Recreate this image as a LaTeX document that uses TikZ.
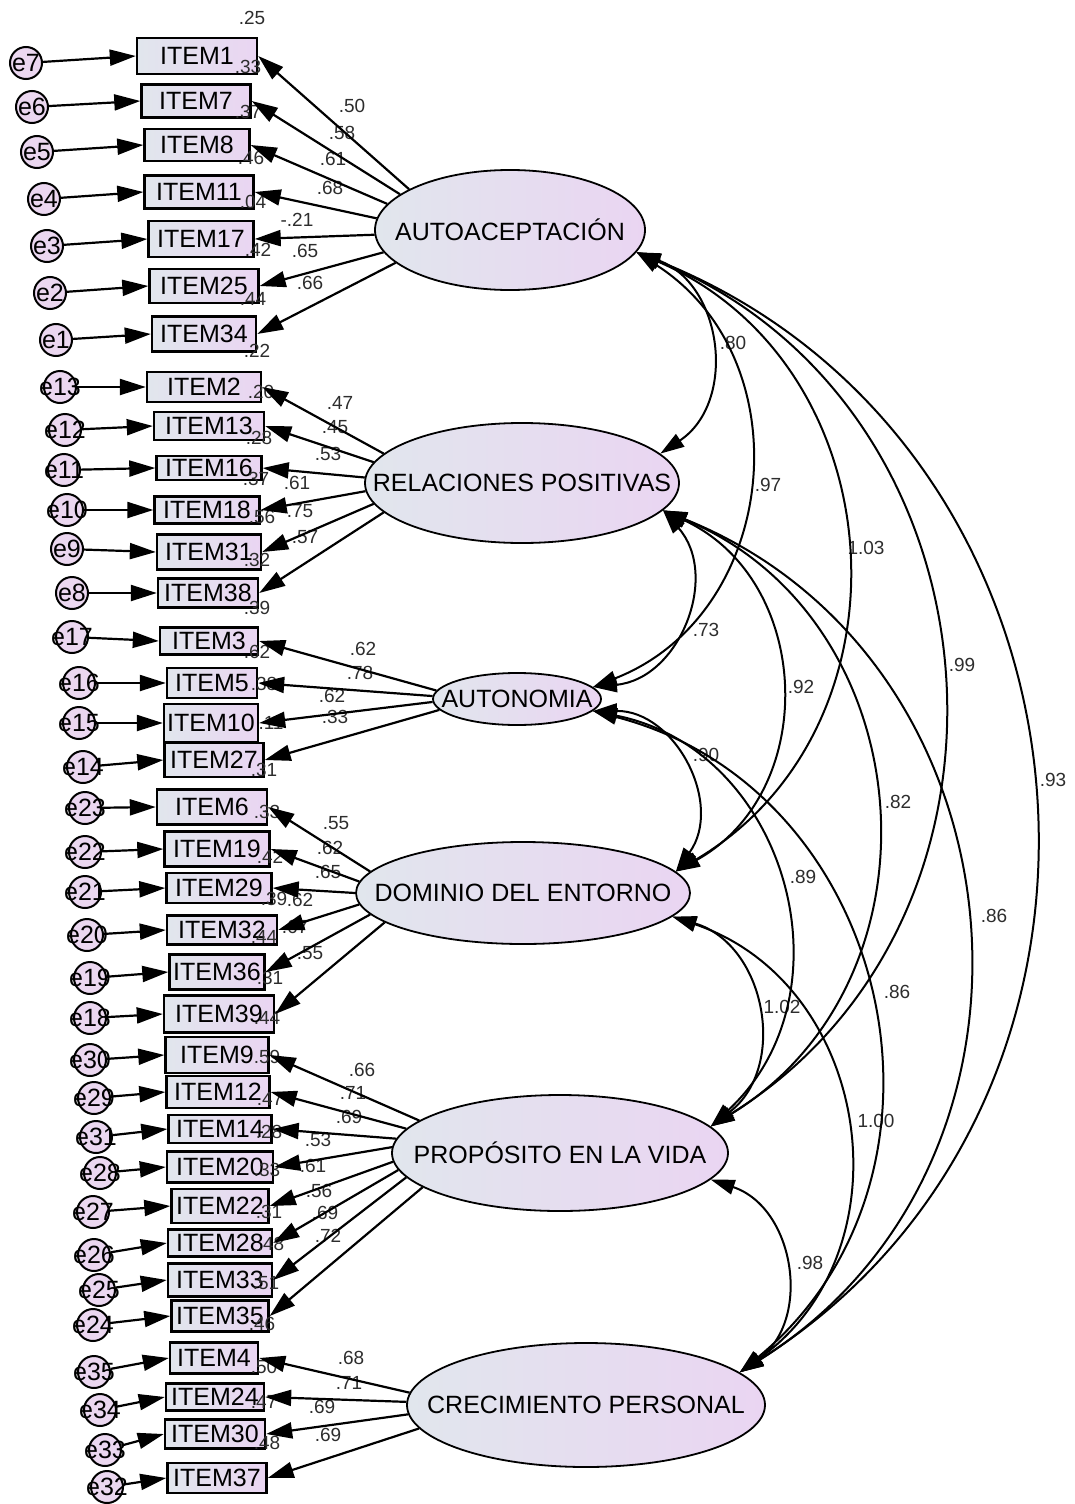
\documentclass[tikz,border=0pt]{standalone}
\usepackage{fontspec}
\setmainfont{Liberation Sans}
\usetikzlibrary{shapes.geometric,arrows.meta}

\definecolor{greyblue}{RGB}{225,230,237}
\definecolor{lilac}{RGB}{234,213,242}
\definecolor{errlilac}{RGB}{235,215,240}
\definecolor{numgrey}{RGB}{45,45,45}

\tikzset{
  obs/.style={draw, line width=1.2pt, left color=greyblue, right color=lilac, inner sep=0pt,
    font=\fontsize{12.5}{14}\selectfont},
  latent/.style={ellipse, draw, line width=0.9pt, left color=greyblue, right color=lilac,
    inner sep=0pt, font=\fontsize{12.5}{14}\selectfont},
  err/.style={circle, draw, line width=1pt, fill=errlilac, inner sep=0pt, minimum size=16pt,
    font=\fontsize{12.5}{14}\selectfont},
  num/.style={text=numgrey, inner sep=0pt, font=\fontsize{9.5}{11}\selectfont},
  reg/.style={line width=1.1pt, -{Triangle[length=13pt,width=8pt]}},
  cov/.style={line width=1pt, {Triangle[length=12pt,width=7.5pt]}-{Triangle[length=12pt,width=7.5pt]},
    bend left=63, looseness=1.17}
}

\begin{document}
\begin{tikzpicture}[x=0.5pt,y=-0.5pt]
    \useasboundingbox (0,0) rectangle (1075,1504);

    % Latent factors
    \foreach \n/\lab/\x/\y/\w/\h in {AUTO/AUTOACEPTACIÓN/510/230/270/120,
        RP/RELACIONES POSITIVAS/522/483/314/120, AUT/AUTONOMIA/517/699/168/52,
        DOM/DOMINIO DEL ENTORNO/523/893/334/102, PROP/PROPÓSITO EN LA VIDA/560/1153/336/116,
        CREC/CRECIMIENTO PERSONAL/586/1405/358/124} {
        \node[latent, minimum width=\w*0.5pt, minimum height=\h*0.5pt] (\n) at (\x,\y) {\makebox[0pt]{\lab}};
    }

    % Observed items
    \foreach \n/\lab/\x/\y/\w/\h in {I1/ITEM1/197/56/120/36, I7/ITEM7/196/101/109/33,
        I8/ITEM8/197/145/105/32, I11/ITEM11/199/192/109/33, I17/ITEM17/201/239/105/36,
        I25/ITEM25/204/286/109/34, I34/ITEM34/204/334/104/35,
        I2/ITEM2/204/387/114/30, I13/ITEM13/209/426/110/28, I16/ITEM16/209/468/105/24,
        I18/ITEM18/207/510/105/27, I31/ITEM31/209/552/104/35, I38/ITEM38/208/593/100/29,
        I3/ITEM3/209/641/98/27, I5/ITEM5/212/683/90/30, I10/ITEM10/211/723/94/38,
        I27/ITEM27/214/760/99/34,
        I6/ITEM6/212/807/110/35, I19/ITEM19/217/849/105/35, I29/ITEM29/219/888/105/30,
        I32/ITEM32/222/930/110/29, I36/ITEM36/217/972/95/35, I39/ITEM39/219/1014/110/37,
        I9/ITEM9/217/1055/103/36, I12/ITEM12/218/1092/103/32, I14/ITEM14/220/1129/103/28,
        I20/ITEM20/220/1167/106/31, I22/ITEM22/220/1206/97/34, I28/ITEM28/220/1243/104/27,
        I33/ITEM33/220/1280/104/33, I35/ITEM35/220/1316/97/31,
        I4/ITEM4/214/1358/88/31, I24/ITEM24/215/1397/98/27, I30/ITEM30/215/1434/100/29,
        I37/ITEM37/217/1478/99/30} {
        \node[obs, minimum width=\w*0.5pt, minimum height=\h*0.5pt] (\n) at (\x,\y) {\lab};
    }

    % Error terms
    \foreach \n/\x/\y in {e7/26/63, e6/32/107, e5/37/152, e4/44/199, e3/47/246, e2/50/293, e1/56/340,
        e13/60/387, e12/65/430, e11/64/470, e10/67/510, e9/67/549, e8/72/593,
        e17/72/637, e16/79/683, e15/79/723, e14/83/767,
        e23/85/808, e22/85/852, e21/85/892, e20/87/935, e19/90/978, e18/90/1018,
        e30/90/1060, e29/94/1098, e31/96/1137, e28/100/1173, e27/93/1212, e26/94/1255,
        e25/99/1290, e24/93/1325,
        e35/94/1372, e34/100/1410, e33/105/1450, e32/107/1487} {
        \node[err] (\n) at (\x,\y) {\makebox[0pt]{\n}};
    }

    % Squared multiple correlations
    \foreach \v/\x/\y [count=\i] in {.25/252/18, .33/248/67, .37/248/112, .46/251/158, .04/253/202,
        .42/258/250, .44/253/299,
        .22/257/351, .20/261/392, .28/259/438, .37/256/479, .56/262/517, .32/257/560,
        .39/257/608, .62/257/652, .38/264/684, .11/271/723,
        .31/264/770, .33/267/812, .42/270/857, .39/274/899, .44/264/937, .31/270/978,
        .44/267/1018, .59/267/1057, .47/270/1099, .28/269/1132, .33/267/1170, .31/269/1212,
        .48/271/1244, .51/266/1283,
        .46/262/1324, .50/264/1367, .47/264/1402, .48/267/1443} {
        \node[num] (r\i) at (\x,\y) {\v};
    }

    % Factor loadings
    \foreach \v/\x/\y [count=\i] in {.50/352/106, .58/342/133, .61/333/159, .68/330/188, -.21/297/220,
        .65/305/251, .66/310/283,
        .47/340/403, .45/335/427, .53/328/454, .61/297/483, .75/300/511, .57/305/537,
        .62/363/649, .78/360/673, .62/332/696, .33/335/717,
        .55/336/823, .62/330/848, .65/328/872, .62/300/900, .67/295/927, .55/310/953,
        .66/362/1070, .71/353/1093, .69/349/1117, .53/318/1140, .61/313/1166, .56/319/1191,
        .69/325/1213, .72/328/1236,
        .68/351/1358, .71/349/1383, .69/322/1407, .69/328/1435} {
        \node[num] (l\i) at (\x,\y) {\v};
    }

    % Correlations between factors
    \foreach \v/\x/\y [count=\i] in {.80/733/343, .97/768/485, 1.03/866/548, .99/962/665,
        .93/1053/780, .73/706/630, .92/801/687, .82/898/802, .86/994/916, .90/706/755,
        .89/803/877, .86/897/992, 1.02/782/1007, 1.00/876/1121, .98/810/1263} {
        \node[num] (c\i) at (\x,\y) {\v};
    }

    % Error arrows
    \foreach \e/\n in {e7/I1, e6/I7, e5/I8, e4/I11, e3/I17, e2/I25, e1/I34,
        e13/I2, e12/I13, e11/I16, e10/I18, e9/I31, e8/I38,
        e17/I3, e16/I5, e15/I10, e14/I27,
        e23/I6, e22/I19, e21/I29, e20/I32, e19/I36, e18/I39,
        e30/I9, e29/I12, e31/I14, e28/I20, e27/I22, e26/I28, e25/I33, e24/I35,
        e35/I4, e34/I24, e33/I30, e32/I37} {
        \draw[reg] (\e) -- (\n.west);
    }

    % Loading arrows
    \foreach \f/\a/\n in {AUTO/158/I1, AUTO/162/I7, AUTO/168/I8, AUTO/175/I11, AUTO/182/I17,
        AUTO/190/I25, AUTO/196/I34,
        RP/168/I2, RP/172/I13, RP/178/I16, RP/183/I18, RP/188/I31, RP/192/I38,
        AUT/174/I3, AUT/178/I5, AUT/182/I10, AUT/188/I27,
        DOM/172/I6, DOM/176/I19, DOM/180/I29, DOM/184/I32, DOM/188/I36, DOM/192/I39,
        PROP/167/I9, PROP/171/I12, PROP/175/I14, PROP/178/I20, PROP/183/I22, PROP/186/I28,
        PROP/189/I33, PROP/194/I35,
        CREC/176/I4, CREC/179/I24, CREC/183/I30, CREC/188/I37} {
        \draw[reg] (\f.\a) -- (\n.east);
    }

    % Covariance arcs
    \foreach \s/\t in {AUTO.-10/RP.12, AUTO.-10/AUT.9, AUTO.-10/DOM.8, AUTO.-10/PROP.10,
        AUTO.-10/CREC.12, RP.-11/AUT.9, RP.-11/DOM.8, RP.-11/PROP.10, RP.-11/CREC.12,
        AUT.-9/DOM.8, AUT.-9/PROP.10, AUT.-9/CREC.12, DOM.-9/PROP.10, DOM.-9/CREC.12,
        PROP.-10/CREC.12} {
        \draw[cov] (\s) to (\t);
    }
\end{tikzpicture}
\end{document}
